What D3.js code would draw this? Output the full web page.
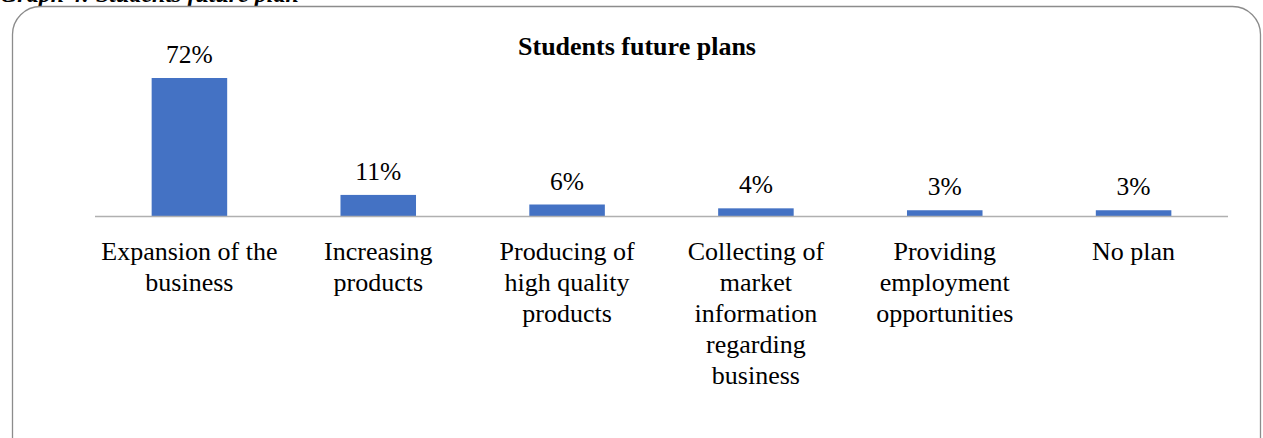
<!DOCTYPE html>
<html>
<head>
<meta charset="utf-8">
<script src="https://cdn.jsdelivr.net/npm/d3@7"></script>
<style>
  html, body { margin: 0; padding: 0; background: #fff; overflow: hidden; }
</style>
</head>
<body>
<svg id="svg1"></svg>
<script>
const categories = [
  "Expansion of the business",
  "Increasing products",
  "Producing of high quality products",
  "Collecting of market information regarding business",
  "Providing employment opportunities",
  "No plan"
];
// category labels as they wrap in the picture
const labelLines = [
  ["Expansion of the", "business"],
  ["Increasing", "products"],
  ["Producing of", "high quality", "products"],
  ["Collecting of", "market", "information", "regarding", "business"],
  ["Providing", "employment", "opportunities"],
  ["No plan"]
];
const values = [72, 11, 6, 4, 3, 3];

const width = 1263;
const height = 438;
const svg = d3.select("#svg1")
    .attr("width", width)
    .attr("height", height)
    .attr("viewBox", [0, 0, width, height])
    .style("font-family", "'Liberation Serif', 'Times New Roman', serif");

// caption cut off at the top of the page
svg.append("text")
    .attr("x", 0)
    .attr("y", 2)
    .style("font-size", "24px")
    .style("font-weight", "bold")
    .style("font-style", "italic")
    .text("Graph 4: Students future plan");

// rounded chart frame
svg.append("rect")
    .attr("x", 12.5)
    .attr("y", 6.5)
    .attr("width", 1248)
    .attr("height", 460)
    .attr("rx", 28)
    .attr("fill", "none")
    .attr("stroke", "#8c8c8c")
    .attr("stroke-width", 1.3);

svg.append("text")
    .attr("x", 637)
    .attr("y", 55)
    .attr("text-anchor", "middle")
    .style("font-size", "26px")
    .style("font-weight", "bold")
    .text("Students future plans");

const x = d3.scaleBand()
    .domain(categories)
    .range([95, 1228])
    .paddingInner(0.6)
    .paddingOuter(0.3);

const y = d3.scaleLinear()
    .domain([0, 72])
    .range([216, 78]);

svg.append("g")
    .selectAll("rect")
    .data(values)
    .join("rect")
    .attr("x", (d, i) => x(categories[i]))
    .attr("y", d => y(d))
    .attr("width", x.bandwidth())
    .attr("height", d => y(0) - y(d))
    .attr("fill", "#4472C4");

// baseline
svg.append("line")
    .attr("x1", 95)
    .attr("x2", 1228)
    .attr("y1", y(0) + 0.5)
    .attr("y2", y(0) + 0.5)
    .attr("stroke", "#b0b0b0")
    .attr("stroke-width", 1.5);

svg.append("g")
    .selectAll("text")
    .data(values)
    .join("text")
    .attr("x", (d, i) => x(categories[i]) + x.bandwidth() / 2)
    .attr("y", d => y(d) - 15)
    .attr("text-anchor", "middle")
    .style("font-size", "25.5px")
    .text(d => d + "%");

svg.append("g")
    .selectAll("text")
    .data(labelLines)
    .join("text")
    .attr("x", (d, i) => x(categories[i]) + x.bandwidth() / 2)
    .attr("y", 260)
    .attr("text-anchor", "middle")
    .style("font-size", "26px")
    .selectAll("tspan")
    .data(d => d)
    .join("tspan")
    .attr("x", function() { return this.parentNode.getAttribute("x"); })
    .attr("dy", (d, i) => i === 0 ? 0 : 31)
    .text(d => d);
</script>
</body>
</html>
